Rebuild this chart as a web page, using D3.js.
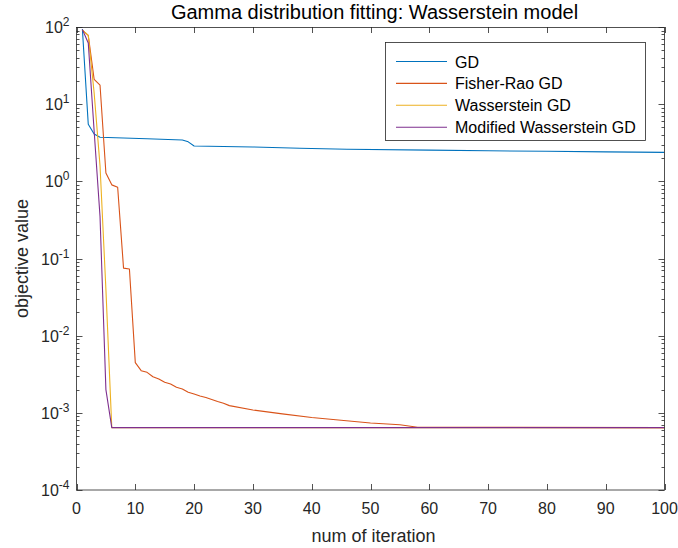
<!DOCTYPE html>
<html>
<head>
<meta charset="utf-8">
<script src="https://cdn.jsdelivr.net/npm/d3@7"></script>
<style>
  html, body { margin: 0; padding: 0; background: #fff; }
  svg { display: block; font-family: "Liberation Sans", Arial, Helvetica, sans-serif; }
</style>
</head>
<body>
<svg id="chart" width="678" height="548"></svg>
<script>
// ---- data ----
const seriesNames = ["GD", "Fisher-Rao GD", "Wasserstein GD", "Modified Wasserstein GD"];

const gdIter   = [1, 2, 3, 4, 8, 12, 18, 19, 20, 30, 38, 46, 60, 70, 80, 90, 100];
const gdValues = [94, 5.5, 4.1, 3.72, 3.65, 3.57, 3.43, 3.25, 2.87, 2.79, 2.68, 2.60, 2.54, 2.49, 2.45, 2.41, 2.37];

const frIter   = [1, 2, 3, 4, 5, 6, 7, 8, 9, 10, 11, 12, 13, 14, 15, 16, 17, 18, 19, 20,
                  21, 22, 23, 24, 25, 26, 30, 35, 40, 45, 50, 55, 58, 100];
const frValues = [91, 78, 21, 17.7, 1.28, 0.90, 0.84, 0.075, 0.073, 4.47e-3, 3.52e-3, 3.35e-3, 2.94e-3, 2.75e-3, 2.49e-3, 2.36e-3, 2.14e-3, 2.04e-3, 1.85e-3, 1.75e-3,
                  1.65e-3, 1.58e-3, 1.49e-3, 1.40e-3, 1.33e-3, 1.24e-3, 1.09e-3, 0.97e-3, 0.87e-3, 0.80e-3, 0.74e-3, 0.70e-3, 6.5e-4, 6.43e-4];

const wIter    = [1, 2, 3, 4, 5, 6, 100];
const wValues  = [91, 78, 14, 1.6, 0.04, 6.43e-4, 6.43e-4];

const mwIter   = [1, 2, 3, 4, 5, 6, 100];
const mwValues = [93, 62, 4.5, 0.35, 2.0e-3, 6.43e-4, 6.43e-4];

const xTicks = [0, 10, 20, 30, 40, 50, 60, 70, 80, 90, 100];
const yTickExps = [-4, -3, -2, -1, 0, 1, 2];
const colors = ["#0072BD", "#D95319", "#EDB120", "#7E2F8E"];

const titleText = "Gamma distribution fitting: Wasserstein model";
const xLabel = "num of iteration";
const yLabel = "objective value";

// ---- layout ----
const svg = d3.select("#chart");
const L = 76.5, R = 664.5, T = 27, B = 490;
const x = d3.scaleLinear().domain([0, 100]).range([L, R]);
const y = d3.scaleLog().domain([1e-4, 1e2]).range([B, T]);
const axisColor = "#262626";
const fs = 16;

svg.append("rect").attr("x", L).attr("y", T).attr("width", R - L).attr("height", B - T).attr("fill", "#fff");

// minor log ticks
const minor = [];
for (let e = -4; e < 2; e++) for (let m = 2; m <= 9; m++) minor.push(m * Math.pow(10, e));
const major = yTickExps.map(e => Math.pow(10, e));

const tickG = svg.append("g").attr("stroke", axisColor).attr("stroke-width", 0.8).attr("fill", "none");
minor.forEach(v => {
  const yy = Math.round(y(v)) + 0.5;
  tickG.append("line").attr("x1", L).attr("x2", L + 3).attr("y1", yy).attr("y2", yy);
  tickG.append("line").attr("x1", R).attr("x2", R - 3).attr("y1", yy).attr("y2", yy);
});
major.forEach(v => {
  const yy = Math.round(y(v)) + 0.5;
  tickG.append("line").attr("x1", L).attr("x2", L + 6).attr("y1", yy).attr("y2", yy);
  tickG.append("line").attr("x1", R).attr("x2", R - 6).attr("y1", yy).attr("y2", yy);
});
xTicks.forEach(v => {
  const xx = Math.round(x(v)) + 0.5;
  tickG.append("line").attr("x1", xx).attr("x2", xx).attr("y1", B).attr("y2", B - 6);
  tickG.append("line").attr("x1", xx).attr("x2", xx).attr("y1", T).attr("y2", T + 6);
});

// lines
const series = [
  { it: gdIter, v: gdValues },
  { it: frIter, v: frValues },
  { it: wIter, v: wValues },
  { it: mwIter, v: mwValues }
];
const line = d3.line().x(d => x(d[0])).y(d => y(d[1]));
svg.append("clipPath").attr("id", "clip").append("rect")
  .attr("x", L).attr("y", T).attr("width", R - L).attr("height", B - T);
series.forEach((s, i) => {
  const pts = s.it.map((k, j) => [k, s.v[j]]);
  svg.append("path").datum(pts).attr("d", line)
    .attr("fill", "none").attr("stroke", colors[i]).attr("stroke-width", 1.1)
    .attr("stroke-linejoin", "round").attr("clip-path", "url(#clip)");
});

// box
svg.append("rect").attr("x", L).attr("y", T + 0.5).attr("width", R - L).attr("height", B - T - 0.5)
  .attr("fill", "none").attr("stroke", axisColor).attr("stroke-width", 0.8);

// x tick labels
svg.append("g").selectAll("text").data(xTicks).join("text")
  .attr("x", d => x(d)).attr("y", B + 24)
  .attr("text-anchor", "middle").attr("font-size", fs).attr("fill", axisColor)
  .text(d => d);

// y tick labels (10^e)
const yl = svg.append("g");
yTickExps.forEach(e => {
  const t = yl.append("text").attr("x", L - 7).attr("y", y(Math.pow(10, e)) + 6)
    .attr("text-anchor", "end").attr("font-size", fs).attr("fill", axisColor);
  t.append("tspan").text("10");
  t.append("tspan").attr("font-size", 12).attr("dy", -7).text(e);
});

// axis labels and title
svg.append("text").attr("x", (L + R) / 2 + 3).attr("y", 542).attr("text-anchor", "middle")
  .attr("font-size", 18).attr("fill", axisColor).text(xLabel);
svg.append("text").attr("transform", `translate(28,${(T + B) / 2}) rotate(-90)`)
  .attr("text-anchor", "middle").attr("font-size", 18).attr("fill", axisColor).text(yLabel);
svg.append("text").attr("x", (L + R) / 2 + 4).attr("y", 19).attr("text-anchor", "middle")
  .attr("font-size", 20).attr("fill", "#000").text(titleText);

// legend
const lg = svg.append("g");
const lx = 385, ly = 42, lw = 260, lh = 98;
lg.append("rect").attr("x", lx + 0.5).attr("y", ly + 0.5).attr("width", lw).attr("height", lh)
  .attr("fill", "#fff").attr("stroke", axisColor).attr("stroke-width", 0.8);
seriesNames.forEach((name, i) => {
  const yy = 61.5 + i * 21.9;
  lg.append("line").attr("x1", 396).attr("x2", 447).attr("y1", yy).attr("y2", yy)
    .attr("stroke", colors[i]).attr("stroke-width", 1.1);
  lg.append("text").attr("x", 455).attr("y", yy + 6).attr("font-size", fs).attr("fill", "#000").text(name);
});
</script>
</body>
</html>
